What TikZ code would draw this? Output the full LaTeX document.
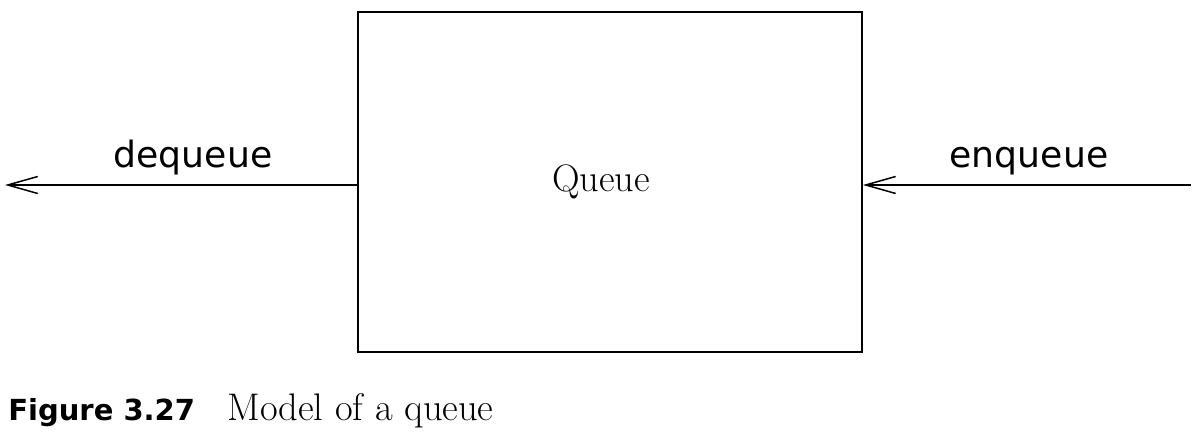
\documentclass[tikz,border=0pt]{standalone}
\usepackage{fontspec}
\usepackage{tikz}
\usetikzlibrary{arrows.meta}
\setsansfont{DejaVu Sans}
\tikzset{
    flecha/.style={line width=0.85pt,-{Straight Barb[length=0.6cm,width=0.34cm,line width=0.85pt]}},
    etiqueta/.style={font=\sffamily\fontsize{20.6}{24}\selectfont,anchor=base,inner sep=0pt}
}
\begin{document}
\begin{tikzpicture}[x=0.02cm,y=-0.02cm]
    \useasboundingbox (0,0) rectangle (1196,438);
    % Caja de la cola
    \node[draw,line width=1.1pt,minimum width=10.08cm,minimum height=6.8cm,inner sep=0pt] (cola) at (610,182) {};
    \node[anchor=base,inner sep=0pt,font=\fontsize{21.8}{26}\selectfont] (rotulo) at (601,192) {Queue};
    % Extremos libres
    \coordinate (salida) at (5,185);
    \coordinate (entrada) at (1191,185);
    \draw[flecha] (cola.west |- salida) -- (salida);
    \draw[flecha] (entrada) -- (cola.east |- entrada);
    \node[etiqueta] (deq) at (193,168) {dequeue};
    \node[etiqueta] (enq) at (1029,168) {enqueue};
    % Pie de figura
    \node[anchor=base west,inner sep=0pt] (pie) at (8,420)
        {\makebox[4.38cm][l]{\sffamily\bfseries\fontsize{16.5}{20}\selectfont Figure 3.27}{\fontsize{21.9}{26}\selectfont Model of a queue}};
\end{tikzpicture}
\end{document}
